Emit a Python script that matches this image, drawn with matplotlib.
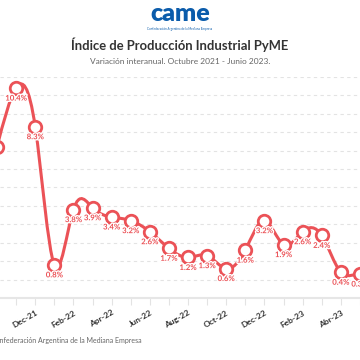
import matplotlib.pyplot as plt
import numpy as np
from matplotlib.path import Path
from matplotlib.patches import PathPatch
import matplotlib.patheffects as pe

plt.rcParams['font.family'] = ['Lato', 'DejaVu Sans']

# Datos
meses = ["Oct-21", "Nov-21", "Dec-21", "Jan-22", "Feb-22", "Mar-22", "Apr-22",
         "May-22", "Jun-22", "Jul-22", "Aug-22", "Sep-22", "Oct-22", "Nov-22",
         "Dec-22", "Jan-23", "Feb-23", "Mar-23", "Abr-23", "May-23", "Jun-23"]
variacion = [7.2, 10.4, 8.3, 0.8, 3.8, 3.9, 3.4, 3.2, 2.6, 1.7, 1.2, 1.3,
             0.6, 1.6, 3.2, 1.9, 2.6, 2.4, 0.4, 0.3, -0.5]
etiquetas_x = ["", "", "Dec-21", "", "Feb-22", "", "Apr-22", "", "Jun-22", "",
               "Aug-22", "", "Oct-22", "", "Dec-22", "", "Feb-23", "", "Abr-23", "", ""]

ROJO = "#eb5257"


def control_natural(v):
    # puntos de control de una curva spline natural (como d3.curveNatural)
    v = np.asarray(v, dtype=float)
    n = len(v) - 1
    a = np.zeros(n); b = np.zeros(n); r = np.zeros(n)
    a[0], b[0], r[0] = 0, 2, v[0] + 2 * v[1]
    for i in range(1, n - 1):
        a[i], b[i], r[i] = 1, 4, 4 * v[i] + 2 * v[i + 1]
    a[n - 1], b[n - 1], r[n - 1] = 2, 7, 8 * v[n - 1] + v[n]
    for i in range(1, n):
        m = a[i] / b[i - 1]
        b[i] -= m
        r[i] -= m * r[i - 1]
    a[n - 1] = r[n - 1] / b[n - 1]
    for i in range(n - 2, -1, -1):
        a[i] = (r[i] - a[i + 1]) / b[i]
    b[n - 1] = (v[n] + a[n - 1]) / 2
    for i in range(n - 1):
        b[i] = 2 * v[i + 1] - a[i + 1]
    return a, b


x = np.arange(len(meses))
y = np.array(variacion)

fig = plt.figure(figsize=(3.6, 3.6), dpi=100)
ax = fig.add_axes([0, 62 / 360, 1, 221 / 360])

# curva suavizada
ax_c, bx_c = control_natural(x)
ay_c, by_c = control_natural(y)
verts = [(x[0], y[0])]
codes = [Path.MOVETO]
for i in range(len(x) - 1):
    verts += [(ax_c[i], ay_c[i]), (bx_c[i], by_c[i]), (x[i + 1], y[i + 1])]
    codes += [Path.CURVE4] * 3
ax.add_patch(PathPatch(Path(verts, codes), fill=False, edgecolor=ROJO,
                       lw=2.2, zorder=3, clip_on=False))

ax.plot(x, y, linestyle="none", marker="o", ms=9, mfc="white", mec=ROJO,
        mew=2, zorder=4, clip_on=False)

for xi, yi in zip(x, y):
    ax.annotate(f"{yi:.1f}%", (xi, yi), xytext=(0, -10), textcoords="offset pixels",
                ha="center", va="center", fontsize=5.6, color=ROJO, fontweight="bold",
                zorder=5, path_effects=[pe.withStroke(linewidth=2, foreground="white")])

ax.set_yticks(np.arange(0, 12))
ax.yaxis.grid(True, linestyle=(0, (3, 3)), color="#e3e3e3", lw=0.8)
ax.set_axisbelow(True)
ax.tick_params(axis="y", left=False, labelleft=False)
ax.set_xticks(x)
ax.set_xticklabels(etiquetas_x, rotation=30, ha="right", va="top",
                   rotation_mode="anchor", fontsize=6, fontweight="bold", color="#333333")
ax.tick_params(axis="x", length=5, width=0.8, color="#e3e3e3", pad=3)
ax.set_xlim(0.157, 19.005)
ax.set_ylim(-1, 11)
for lado in ["top", "left", "right"]:
    ax.spines[lado].set_visible(False)
ax.spines["bottom"].set_color("#e6e6e6")
ax.spines["bottom"].set_linewidth(1.5)

# Logo y títulos
fig.text(0.5, 1 - 14 / 360, "came", ha="center", va="center", fontsize=18,
         fontweight="heavy", color="#0b5cab")
fig.text(0.5, 1 - 29 / 360, "Confederación Argentina de la Mediana Empresa", ha="center",
         va="center", fontsize=2.2, color="#0b5cab")
fig.text(0.5, 1 - 45 / 360, "Índice de Producción Industrial PyME", ha="center", va="center",
         fontsize=9.4, fontweight="bold", color="#333333")
fig.text(0.5, 1 - 61 / 360, "Variación interanual. Octubre 2021 - Junio 2023.", ha="center",
         va="center", fontsize=6.0, color="#666666")
fig.text(-9 / 360, 1 - 341 / 360, "Confederación Argentina de la Mediana Empresa",
         ha="left", va="center", fontsize=5.0, color="#666666")

fig.savefig("out.png", dpi=100)
